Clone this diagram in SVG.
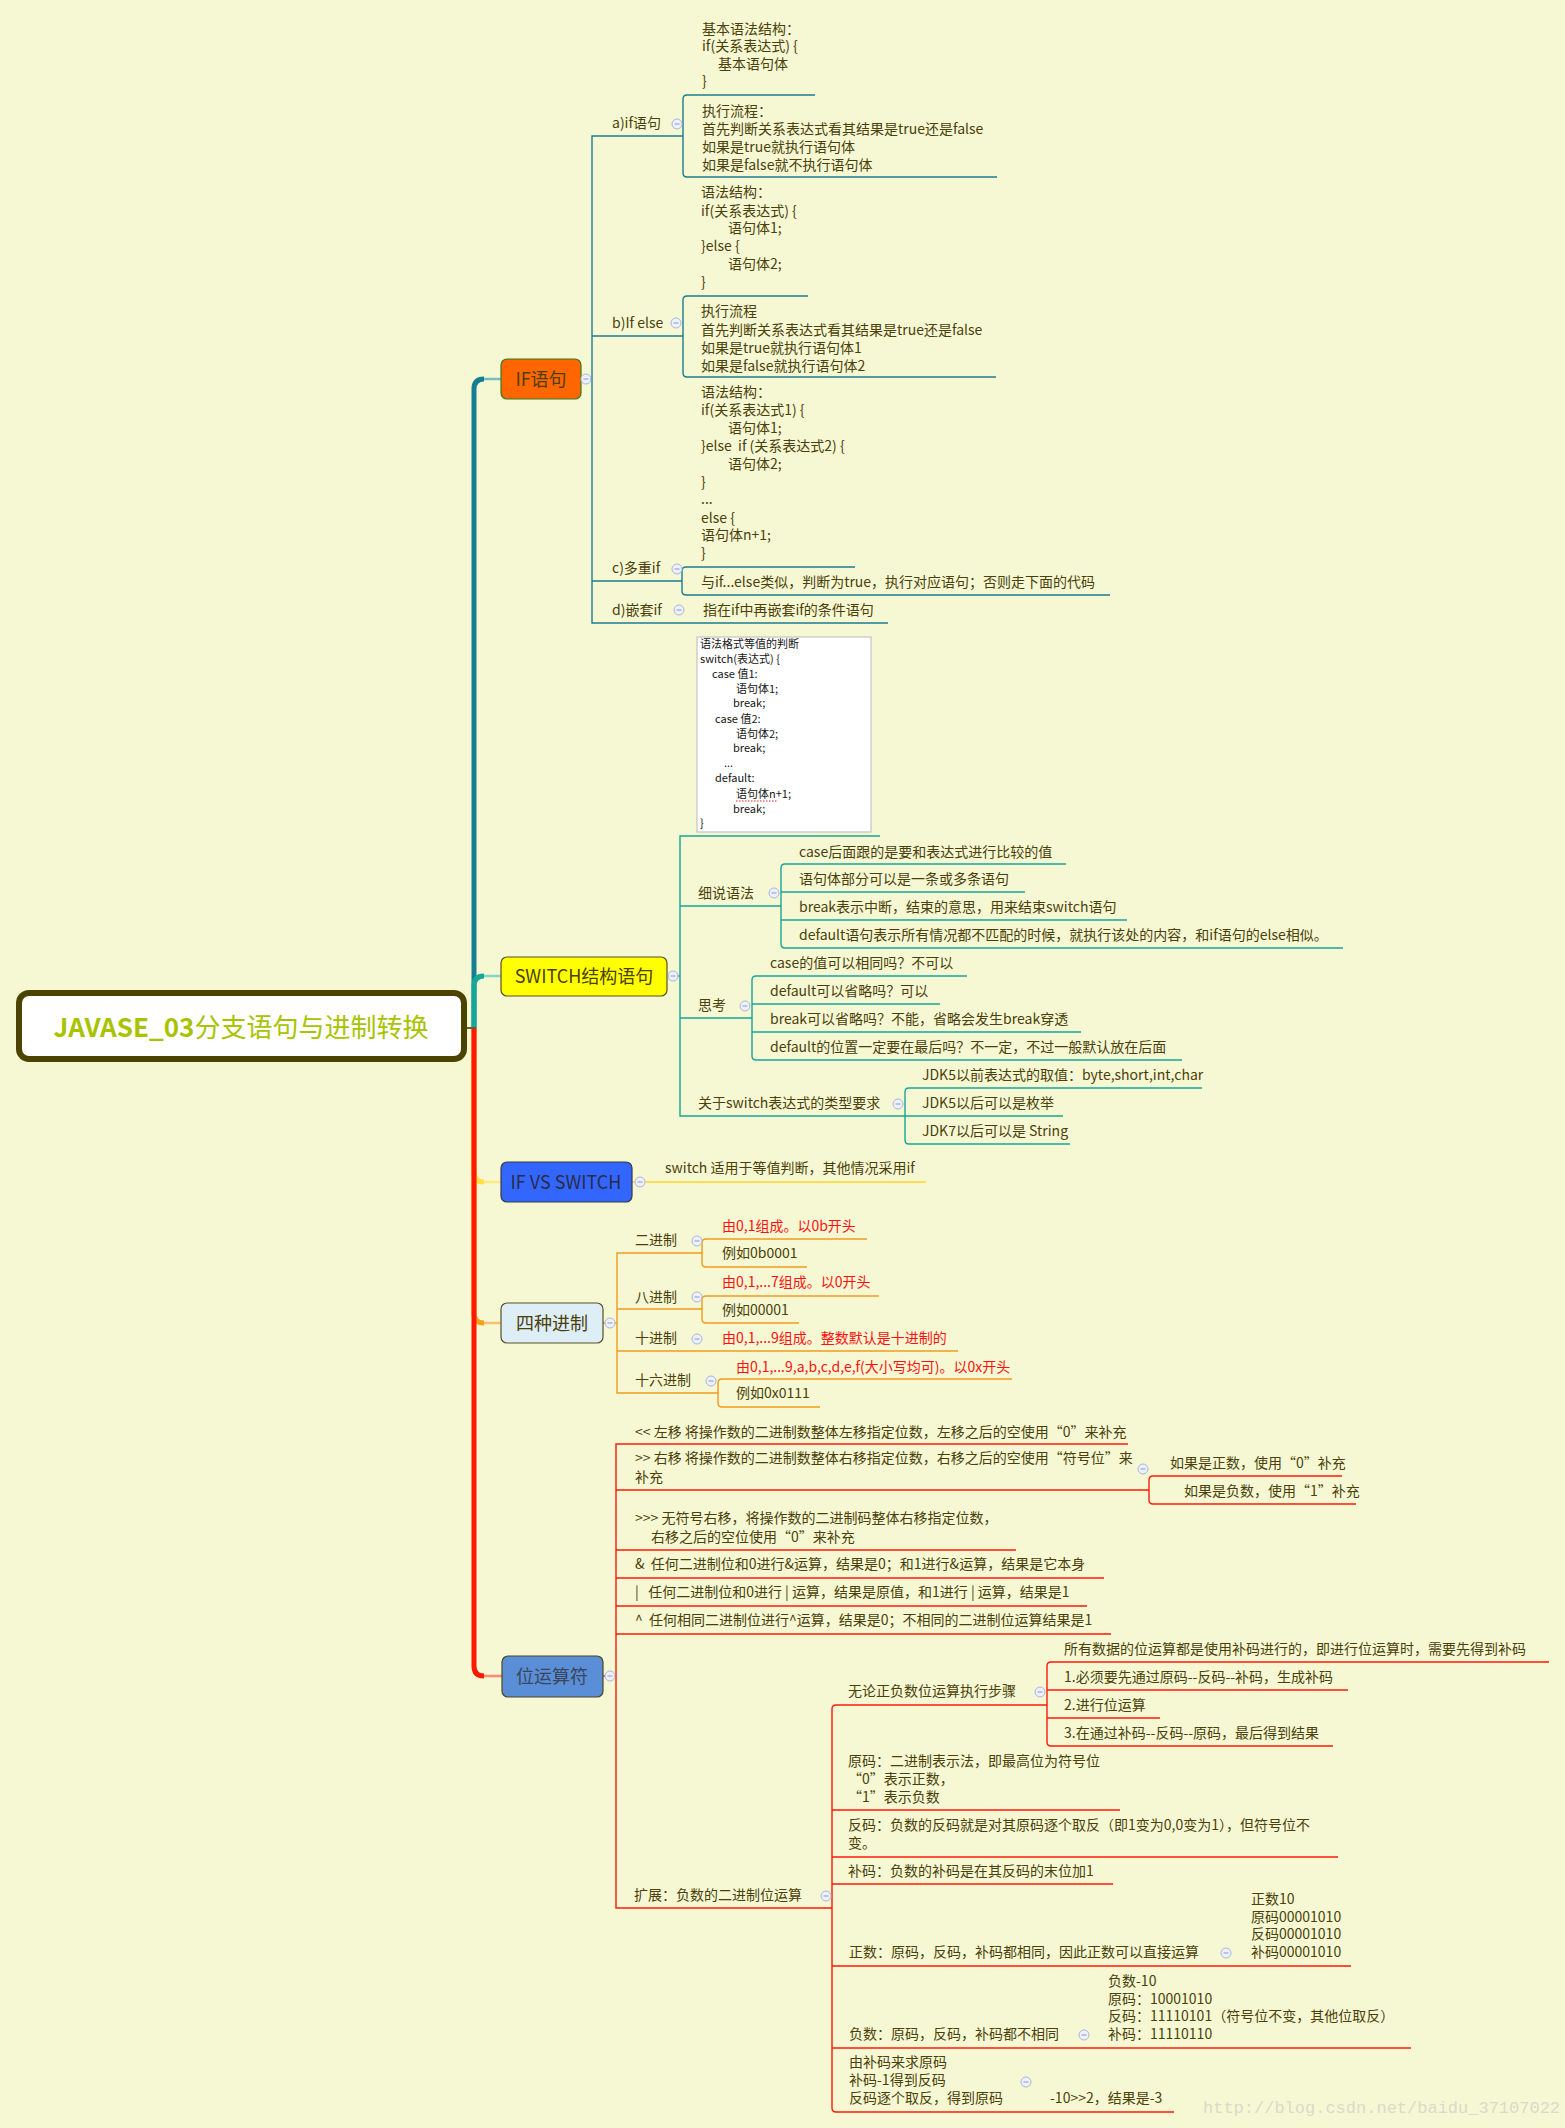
<svg xmlns="http://www.w3.org/2000/svg" width="1565" height="2128" viewBox="0 0 1565 2128">
<style>
text{font-family:"Noto Sans CJK SC","Noto Sans",sans-serif;font-size:14px;fill:#4B3F0A;white-space:pre}
.r{fill:#FF1010}
.code{font-size:11px;fill:#151515}
.nt{font-size:18px;text-anchor:middle}
.ln{fill:none;stroke-width:1.4}
.tk{fill:none;stroke-width:5}
.th{fill:none;stroke-width:2.5}
.lif{stroke:#1C7D91}
.lsw{stroke:#19A596}
.lvs{stroke:#FFD526}
.lbs{stroke:#F39A1E}
.lbit{stroke:#FF1A0A}
.wm{font-family:"Liberation Mono",monospace;font-size:17px;fill:#DADACB}
</style>
<defs>
<g id="m"><circle r="5" fill="#EEF1FB" stroke="#A9B6DD" stroke-width="1"/><line x1="-2.5" y1="0" x2="2.5" y2="0" stroke="#8897C8" stroke-width="1"/></g>
</defs>
<rect width="1565" height="2128" fill="#F5F8D3"/>

<g id="connectors">
<!-- trunk -->
<path class="tk" d="M474 1028 V389 Q474 379 484 379" stroke="#157E92"/>
<path class="th" d="M484 379 H501" stroke="#7DBDC0"/>
<path class="tk" d="M474 1028 V986 Q474 976 484 976" stroke="#15A898"/>
<path class="th" d="M484 976 H501" stroke="#7ED8C8"/>
<path class="tk" d="M474 1028 V1172 Q474 1182 484 1182" stroke="#FFE040"/>
<path class="th" d="M484 1182 H501" stroke="#FFE880"/>
<path class="tk" d="M474 1028 V1313 Q474 1323 484 1323" stroke="#F5A21A"/>
<path class="th" d="M484 1323 H501" stroke="#F8C070"/>
<path class="tk" d="M474 1028 V1666 Q474 1676 484 1676" stroke="#FF1A00"/>
<path class="th" d="M484 1676 H502" stroke="#FF8A70"/>
<path d="M467 1028 H476" fill="none" stroke="#6B5A2A" stroke-width="2"/>

<!-- IF -->
<path class="ln lif" d="M581 379 H592"/>
<path class="ln lif" d="M683 136 H592 V623 H888"/>
<path class="ln lif" d="M592 336 H683"/>
<path class="ln lif" d="M592 581 H682"/>
<path class="ln lif" d="M815 95 H687 Q683 95 683 99 V173 Q683 177 687 177 H997"/>
<path class="ln lif" d="M808 296 H687 Q683 296 683 300 V373 Q683 377 687 377 H996"/>
<path class="ln lif" d="M855 567 H686 Q682 567 682 571 V591 Q682 595 686 595 H1110"/>

<!-- SWITCH -->
<path class="ln lsw" d="M667 976 H680"/>
<path class="ln lsw" d="M880 836 H680 V1116 H1063"/>
<path class="ln lsw" d="M680 906 H781"/>
<path class="ln lsw" d="M680 1018 H752"/>
<path class="ln lsw" d="M1066 864 H785 Q781 864 781 868 V944 Q781 948 785 948 H1343"/>
<path class="ln lsw" d="M781 892 H1025 M781 920 H1127"/>
<path class="ln lsw" d="M967 976 H756 Q752 976 752 980 V1056 Q752 1060 756 1060 H1182"/>
<path class="ln lsw" d="M752 1004 H940 M752 1032 H1081"/>
<path class="ln lsw" d="M1202 1088 H909 Q905 1088 905 1092 V1140 Q905 1144 909 1144 H1070"/>

<!-- IF VS SWITCH -->
<path class="ln lvs" d="M632 1182 H926"/>

<!-- 四种进制 -->
<path class="ln lbs" d="M603 1323 H617"/>
<path class="ln lbs" d="M702 1253 H617 V1393 H718"/>
<path class="ln lbs" d="M617 1309 H702 M617 1351 H958"/>
<path class="ln lbs" d="M867 1239 H706 Q702 1239 702 1243 V1263 Q702 1267 706 1267 H807"/>
<path class="ln lbs" d="M879 1296 H706 Q702 1296 702 1300 V1319 Q702 1323 706 1323 H799"/>
<path class="ln lbs" d="M1012 1379 H722 Q718 1379 718 1383 V1403 Q718 1407 722 1407 H820"/>

<!-- 位运算符 -->
<path class="ln lbit" d="M603 1676 H616"/>
<path class="ln lbit" d="M1128 1444 H616 V1908 H832"/>
<path class="ln lbit" d="M616 1490 H1149 M616 1550 H1016 M616 1578 H1104 M616 1606 H1087 M616 1634 H1111"/>
<path class="ln lbit" d="M1342 1476 H1153 Q1149 1476 1149 1480 V1500 Q1149 1504 1153 1504 H1356"/>
<path class="ln lbit" d="M1047 1705 H836 Q832 1705 832 1709 V2108 Q832 2112 836 2112 H1174"/>
<path class="ln lbit" d="M832 1810 H1120 M832 1857 H1338 M832 1884 H1113 M832 1966 H1351 M832 2048 H1411"/>
<path class="ln lbit" d="M1549 1662 H1051 Q1047 1662 1047 1666 V1742 Q1047 1746 1051 1746 H1333"/>
<path class="ln lbit" d="M1047 1690 H1348 M1047 1718 H1160"/>
</g>

<g id="root">
<rect x="19" y="993" width="445" height="66" rx="10" fill="#FFFFFF" stroke="#4D4300" stroke-width="6"/>
<text x="241" y="1037" style="font-size:26px;fill:#A8C300;text-anchor:middle"><tspan style="font-weight:bold">JAVASE_03</tspan>分支语句与进制转换</text>
</g>

<g id="node-if">
<rect x="501" y="359" width="80" height="40" rx="6" fill="#FF6600" stroke="#3B7A1C" stroke-width="1.2"/>
<text class="nt" x="541" y="386">IF语句</text>
<use href="#m" x="586" y="379"/>
</g>
<g id="if-a">
<text x="612" y="128">a)if语句</text><use href="#m" x="677" y="124"/>
<text x="702" y="34">基本语法结构：</text>
<text x="702" y="51">if(关系表达式) {</text>
<text x="718" y="69">基本语句体</text>
<text x="702" y="86">}</text>
<text x="702" y="116">执行流程：</text>
<text x="702" y="134">首先判断关系表达式看其结果是true还是false</text>
<text x="702" y="152">如果是true就执行语句体</text>
<text x="702" y="170">如果是false就不执行语句体</text>
</g>
<g id="if-b">
<text x="612" y="328">b)If else</text><use href="#m" x="676" y="323"/>
<text x="701" y="197">语法结构：</text>
<text x="701" y="216">if(关系表达式) {</text>
<text x="728" y="233">语句体1;</text>
<text x="701" y="251">}else {</text>
<text x="728" y="269">语句体2;</text>
<text x="701" y="287">}</text>
<text x="701" y="316">执行流程</text>
<text x="701" y="335">首先判断关系表达式看其结果是true还是false</text>
<text x="701" y="353">如果是true就执行语句体1</text>
<text x="701" y="371">如果是false就执行语句体2</text>
</g>
<g id="if-c">
<text x="612" y="573">c)多重if</text><use href="#m" x="677" y="569"/>
<text x="701" y="397">语法结构：</text>
<text x="701" y="415">if(关系表达式1) {</text>
<text x="728" y="433">语句体1;</text>
<text x="701" y="451">}else  if (关系表达式2) {</text>
<text x="728" y="469">语句体2;</text>
<text x="701" y="487">}</text>
<text x="701" y="504">...</text>
<text x="701" y="523">else {</text>
<text x="701" y="540">语句体n+1;</text>
<text x="701" y="558">}</text>
<text x="701" y="587">与if...else类似，判断为true，执行对应语句；否则走下面的代码</text>
</g>
<g id="if-d">
<text x="612" y="615">d)嵌套if</text><use href="#m" x="679" y="610"/>
<text x="703" y="615">指在if中再嵌套if的条件语句</text>
</g>

<g id="node-switch">
<rect x="501" y="957" width="166" height="39" rx="6" fill="#FFFF00" stroke="#5A5020" stroke-width="1.2"/>
<text class="nt" x="584" y="983">SWITCH结构语句</text>
<use href="#m" x="673" y="976"/>
</g>
<g id="switch-code">
<rect x="697" y="637" width="174" height="195" fill="#FFFFFF" stroke="#C4C4C4" stroke-width="1.2"/>
<text class="code" x="700" y="648">语法格式等值的判断</text>
<text class="code" x="700" y="663">switch(表达式) {</text>
<text class="code" x="712" y="678">case 值1:</text>
<text class="code" x="736" y="693">语句体1;</text>
<text class="code" x="733" y="707">break;</text>
<text class="code" x="715" y="723">case 值2:</text>
<text class="code" x="736" y="738">语句体2;</text>
<text class="code" x="733" y="752">break;</text>
<text class="code" x="724" y="767">...</text>
<text class="code" x="715" y="782">default:</text>
<text class="code" x="736" y="798">语句体n+1;</text>
<line x1="736" y1="801" x2="778" y2="801" stroke="#E02020" stroke-width="1" stroke-dasharray="1.5,1.5"/>
<text class="code" x="733" y="813">break;</text>
<text class="code" x="700" y="827">}</text>
</g>
<g id="switch-syntax">
<text x="698" y="898">细说语法</text><use href="#m" x="774" y="893"/>
<text x="799" y="857">case后面跟的是要和表达式进行比较的值</text>
<text x="799" y="884">语句体部分可以是一条或多条语句</text>
<text x="799" y="912">break表示中断，结束的意思，用来结束switch语句</text>
<text x="799" y="940">default语句表示所有情况都不匹配的时候，就执行该处的内容，和if语句的else相似。</text>
</g>
<g id="switch-think">
<text x="698" y="1010">思考</text><use href="#m" x="745" y="1006"/>
<text x="770" y="968">case的值可以相同吗？不可以</text>
<text x="770" y="996">default可以省略吗？可以</text>
<text x="770" y="1024">break可以省略吗？不能，省略会发生break穿透</text>
<text x="770" y="1052">default的位置一定要在最后吗？不一定，不过一般默认放在后面</text>
</g>
<g id="switch-type">
<text x="698" y="1108">关于switch表达式的类型要求</text><use href="#m" x="898" y="1104"/>
<text x="922" y="1080">JDK5以前表达式的取值：byte,short,int,char</text>
<text x="922" y="1108">JDK5以后可以是枚举</text>
<text x="922" y="1136">JDK7以后可以是 String</text>
</g>

<g id="node-ifvs">
<rect x="501" y="1162" width="131" height="40" rx="6" fill="#3366FF" stroke="#3A3A40" stroke-width="1.2"/>
<text class="nt" x="566" y="1189" style="fill:#2A2C48">IF VS SWITCH</text>
<use href="#m" x="640" y="1182"/>
<text x="665" y="1173">switch 适用于等值判断，其他情况采用if</text>
</g>

<g id="node-base">
<rect x="501" y="1303" width="102" height="40" rx="6" fill="#DDEEF6" stroke="#5A5020" stroke-width="1.2"/>
<text class="nt" x="552" y="1330">四种进制</text>
<use href="#m" x="610" y="1323"/>
</g>
<g id="base-children">
<text x="635" y="1245">二进制</text><use href="#m" x="697" y="1241"/>
<text class="r" x="722" y="1231">由0,1组成。以0b开头</text>
<text x="722" y="1258">例如0b0001</text>
<text x="635" y="1302">八进制</text><use href="#m" x="697" y="1297"/>
<text class="r" x="722" y="1287">由0,1,...7组成。以0开头</text>
<text x="722" y="1315">例如00001</text>
<text x="635" y="1343">十进制</text><use href="#m" x="697" y="1339"/>
<text class="r" x="722" y="1343">由0,1,...9组成。整数默认是十进制的</text>
<text x="635" y="1385">十六进制</text><use href="#m" x="711" y="1381"/>
<text class="r" x="736" y="1372">由0,1,...9,a,b,c,d,e,f(大小写均可)。以0x开头</text>
<text x="736" y="1398">例如0x0111</text>
</g>

<g id="node-bit">
<rect x="502" y="1656" width="101" height="41" rx="6" fill="#5A8ED6" stroke="#4D4520" stroke-width="1.2"/>
<text class="nt" x="552" y="1683" style="fill:#3A4560">位运算符</text>
<use href="#m" x="610" y="1676"/>
</g>
<g id="bit-children">
<text x="635" y="1437">&lt;&lt; 左移 将操作数的二进制数整体左移指定位数，左移之后的空使用“0”来补充</text>
<text x="635" y="1463">&gt;&gt; 右移 将操作数的二进制数整体右移指定位数，右移之后的空使用“符号位”来</text>
<text x="635" y="1482">补充</text><use href="#m" x="1143" y="1469"/>
<text x="1170" y="1468">如果是正数，使用“0”补充</text>
<text x="1184" y="1496">如果是负数，使用“1”补充</text>
<text x="635" y="1523">&gt;&gt;&gt; 无符号右移，将操作数的二进制码整体右移指定位数，</text>
<text x="651" y="1542">右移之后的空位使用“0”来补充</text>
<text x="635" y="1569">&amp;  任何二进制位和0进行&amp;运算，结果是0；和1进行&amp;运算，结果是它本身</text>
<text x="635" y="1597">|   任何二进制位和0进行 | 运算，结果是原值，和1进行 | 运算，结果是1</text>
<text x="635" y="1625">^  任何相同二进制位进行^运算，结果是0；不相同的二进制位运算结果是1</text>
</g>
<g id="bit-ext">
<text x="634" y="1900">扩展：负数的二进制位运算</text><use href="#m" x="826" y="1896"/>
<text x="848" y="1696">无论正负数位运算执行步骤</text><use href="#m" x="1040" y="1692"/>
<text x="1064" y="1654">所有数据的位运算都是使用补码进行的，即进行位运算时，需要先得到补码</text>
<text x="1064" y="1682">1.必须要先通过原码--反码--补码，生成补码</text>
<text x="1064" y="1710">2.进行位运算</text>
<text x="1064" y="1738">3.在通过补码--反码--原码，最后得到结果</text>
<text x="848" y="1766">原码：二进制表示法，即最高位为符号位</text>
<text x="848" y="1784">“0”表示正数，</text>
<text x="848" y="1802">“1”表示负数</text>
<text x="848" y="1830">反码：负数的反码就是对其原码逐个取反（即1变为0,0变为1），但符号位不</text>
<text x="848" y="1848">变。</text>
<text x="848" y="1876">补码：负数的补码是在其反码的末位加1</text>
<text x="849" y="1957">正数：原码，反码，补码都相同，因此正数可以直接运算</text><use href="#m" x="1226" y="1953"/>
<text x="1251" y="1904">正数10</text>
<text x="1251" y="1922">原码00001010</text>
<text x="1251" y="1939">反码00001010</text>
<text x="1251" y="1957">补码00001010</text>
<text x="849" y="2039">负数：原码，反码，补码都不相同</text><use href="#m" x="1084" y="2035"/>
<text x="1108" y="1986">负数-10</text>
<text x="1108" y="2004">原码：10001010</text>
<text x="1108" y="2021">反码：11110101（符号位不变，其他位取反）</text>
<text x="1108" y="2039">补码：11110110</text>
<text x="849" y="2067">由补码来求原码</text>
<text x="849" y="2085">补码-1得到反码</text>
<text x="849" y="2103">反码逐个取反，得到原码</text><use href="#m" x="1026" y="2082"/>
<text x="1050" y="2103">-10&gt;&gt;2，结果是-3</text>
</g>

<text class="wm" x="1203" y="2113">http://blog.csdn.net/baidu_37107022</text>
</svg>
